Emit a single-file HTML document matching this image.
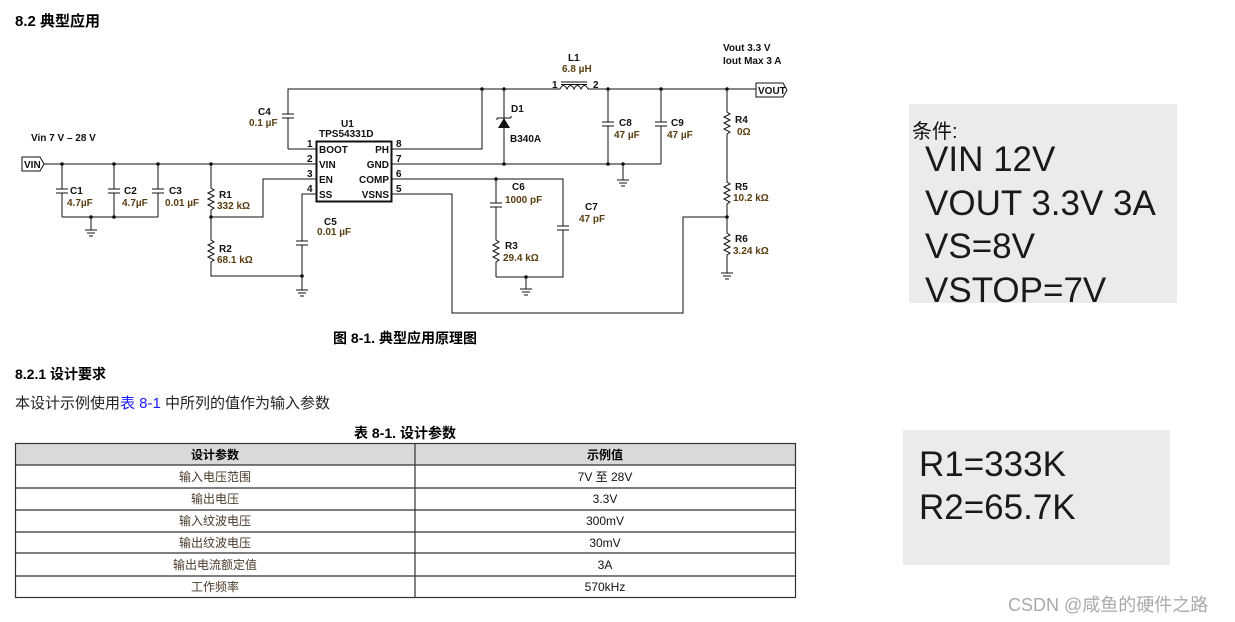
<!DOCTYPE html>
<html><head><meta charset="utf-8"><style>
html,body{margin:0;padding:0;background:#fff;width:1235px;height:622px;overflow:hidden}
svg{display:block}
.n{font:bold 10px "Liberation Sans",sans-serif;fill:#111}
.v{font:bold 10px "Liberation Sans",sans-serif;fill:#5a3d10}
.w{stroke:#111;stroke-width:1;fill:none}
.b{font-family:"Liberation Sans","Noto Sans CJK SC",sans-serif}
</style></head><body>
<svg width="1235" height="622" viewBox="0 0 1235 622" xmlns="http://www.w3.org/2000/svg">
<text x="15" y="26" class="b" font-size="15" font-weight="bold" fill="#000">8.2 典型应用</text>

<g class="w">
<path d="M22 157 H40 L44 164 L40 171 H22 Z"/>
<path d="M44 164 H316"/>
<path d="M62 164 V189 M56 189 H68 M56 193 H68 M62 193 V217"/>
<path d="M114 164 V189 M108 189 H120 M108 193 H120 M114 193 V217"/>
<path d="M158 164 V189 M152 189 H164 M152 193 H164 M158 193 V217"/>
<path d="M62 217 H158"/>
<path d="M91 217 V230 M85 230 H97 M87 233 H95 M89 236 H93"/>
<path d="M211 164 V188 l3 2 -6 3 6 3 -6 3 6 3 -6 3 6 3 -3 2 V240 l3 2 -6 3 6 3 -6 3 6 3 -6 3 6 3 -3 2 V276 H302"/>
<path d="M211 217 H263 V179 H316"/>
<path d="M316 194 H302 V241 M296 241 H308 M296 245 H308 M302 245 V290 M296 290 H308 M298 293 H306 M300 296 H304"/>
<path d="M288 149 H316 M288 149 V118 M282 118 H294 M282 114 H294 M288 114 V89 H560"/>
<rect x="316.5" y="141.5" width="75" height="60" stroke-width="2"/>
<path d="M392 149 H482 V89"/>
<path d="M560 89 q3.5 -7 7 0 q3.5 -7 7 0 q3.5 -7 7 0 q3.5 -7 7 0 M588 89 H756"/>
<path d="M561 82 H587 M561 84.5 H587"/>
<path d="M504 89 V164"/>
<path d="M392 164 H661"/>
<path d="M623 164 V180 M617 180 H629 M619 183 H627 M621 186 H625"/>
<path d="M608 89 V122 M602 122 H614 M602 126 H614 M608 126 V164"/>
<path d="M661 89 V122 M655 122 H667 M655 126 H667 M661 126 V164"/>
<path d="M392 179 H563 V226 M557 226 H569 M557 230 H569 M563 230 V277 H496"/>
<path d="M496 179 V203 M490 203 H502 M490 207 H502 M496 207 V240 l3 2 -6 3 6 3 -6 3 6 3 -6 3 6 3 -3 2 V277"/>
<path d="M526 277 V289 M520 289 H532 M522 292 H530 M524 295 H528"/>
<path d="M392 194 H452 V313 H683 V217 H727"/>
<path d="M727 89 V112 l3 2 -6 3 6 3 -6 3 6 3 -6 3 6 3 -3 2 V182 l3 2 -6 3 6 3 -6 3 6 3 -6 3 6 3 -3 2 V233 l3 2 -6 3 6 3 -6 3 6 3 -6 3 6 3 -3 2 V273 M721 273 H733 M723 276 H731 M725 279 H729"/>
<path d="M756 83 H783 L787 90 L783 97 H756 Z"/>
</g>
<path d="M498 128 H510 L504 118 Z" fill="#111"/>
<path d="M497 118 H511 M497 118 v2 M511 118 v-2" stroke="#111" fill="none"/>
<g fill="#111">
<circle cx="62" cy="164" r="1.8"/><circle cx="114" cy="164" r="1.8"/><circle cx="158" cy="164" r="1.8"/><circle cx="211" cy="164" r="1.8"/>
<circle cx="91" cy="217" r="1.8"/><circle cx="114" cy="217" r="1.8"/><circle cx="211" cy="217" r="1.8"/><circle cx="302" cy="276" r="1.8"/>
<circle cx="482" cy="89" r="1.8"/><circle cx="504" cy="89" r="1.8"/><circle cx="608" cy="89" r="1.8"/><circle cx="661" cy="89" r="1.8"/><circle cx="727" cy="89" r="1.8"/>
<circle cx="504" cy="164" r="1.8"/><circle cx="608" cy="164" r="1.8"/><circle cx="623" cy="164" r="1.8"/>
<circle cx="496" cy="179" r="1.8"/><circle cx="526" cy="277" r="1.8"/><circle cx="727" cy="217" r="1.8"/>
</g>

<text x="24" y="168" class="n">VIN</text>
<text x="758" y="94" class="n">VOUT</text>
<text x="31" y="141" class="n">Vin  7 V – 28 V</text>
<text x="70" y="194" class="n">C1</text><text x="67" y="206" class="v">4.7µF</text>
<text x="124" y="194" class="n">C2</text><text x="122" y="206" class="v">4.7µF</text>
<text x="169" y="194" class="n">C3</text><text x="165" y="206" class="v">0.01 µF</text>
<text x="219" y="198" class="n">R1</text><text x="217" y="209" class="v">332 kΩ</text>
<text x="219" y="252" class="n">R2</text><text x="217" y="263" class="v">68.1 kΩ</text>
<text x="324" y="225" class="n">C5</text><text x="317" y="235" class="v">0.01 µF</text>
<text x="258" y="115" class="n">C4</text><text x="249" y="126" class="v">0.1 µF</text>
<text x="341" y="127" class="n">U1</text>
<text x="319" y="137" class="n">TPS54331D</text>
<text x="319" y="153" class="n">BOOT</text><text x="319" y="168" class="n">VIN</text><text x="319" y="183" class="n">EN</text><text x="319" y="198" class="n">SS</text>
<text x="389" y="153" class="n" text-anchor="end">PH</text><text x="389" y="168" class="n" text-anchor="end">GND</text><text x="389" y="183" class="n" text-anchor="end">COMP</text><text x="389" y="198" class="n" text-anchor="end">VSNS</text>
<text x="307" y="147" class="n">1</text><text x="307" y="162" class="n">2</text><text x="307" y="177" class="n">3</text><text x="307" y="192" class="n">4</text>
<text x="396" y="147" class="n">8</text><text x="396" y="162" class="n">7</text><text x="396" y="177" class="n">6</text><text x="396" y="192" class="n">5</text>
<text x="568" y="61" class="n">L1</text><text x="562" y="72" class="v">6.8 µH</text>
<text x="552" y="88" class="n">1</text><text x="593" y="88" class="n">2</text>
<text x="511" y="112" class="n">D1</text><text x="510" y="142" class="n">B340A</text>
<text x="619" y="126" class="n">C8</text><text x="614" y="138" class="v">47 µF</text>
<text x="671" y="126" class="n">C9</text><text x="667" y="138" class="v">47 µF</text>
<text x="512" y="190" class="n">C6</text><text x="505" y="203" class="v">1000 pF</text>
<text x="585" y="210" class="n">C7</text><text x="579" y="222" class="v">47 pF</text>
<text x="505" y="249" class="n">R3</text><text x="503" y="261" class="v">29.4 kΩ</text>
<text x="735" y="123" class="n">R4</text><text x="737" y="135" class="v">0Ω</text>
<text x="735" y="190" class="n">R5</text><text x="733" y="201" class="v">10.2 kΩ</text>
<text x="735" y="242" class="n">R6</text><text x="733" y="254" class="v">3.24 kΩ</text>
<text x="723" y="51" class="n" font-size="9.5">Vout 3.3 V</text>
<text x="723" y="64" class="n" font-size="9.5">Iout Max 3 A</text>

<text x="405" y="343" class="b" font-size="14" font-weight="bold" text-anchor="middle" fill="#000">图 8-1. 典型应用原理图</text>
<text x="15" y="379" class="b" font-size="14" font-weight="bold" fill="#000">8.2.1 设计要求</text>
<text x="15" y="408" class="b" font-size="15" fill="#222">本设计示例使用<tspan fill="#1a1aff">表 8-1</tspan> 中所列的值作为输入参数</text>
<text x="405" y="438" class="b" font-size="14" font-weight="bold" text-anchor="middle" fill="#000">表 8-1. 设计参数</text>

<rect x="15" y="443" width="780" height="22" fill="#d9d9d9"/>
<g stroke="#333" stroke-width="1.2" fill="none">
<rect x="15.5" y="443.5" width="780" height="154"/>
<path d="M415 443 V598 M15 465 H796 M15 488 H796 M15 510 H796 M15 532 H796 M15 553 H796 M15 576 H796"/>
</g>
<g class="b" font-size="12" text-anchor="middle" fill="#4a3a2a">
<text x="215" y="459" font-weight="bold" fill="#000">设计参数</text><text x="605" y="459" font-weight="bold" fill="#000">示例值</text>
<text x="215" y="481">输入电压范围</text><text x="605" y="481" fill="#111">7V 至 28V</text>
<text x="215" y="503">输出电压</text><text x="605" y="503" fill="#111">3.3V</text>
<text x="215" y="525">输入纹波电压</text><text x="605" y="525" fill="#111">300mV</text>
<text x="215" y="547">输出纹波电压</text><text x="605" y="547" fill="#111">30mV</text>
<text x="215" y="569">输出电流额定值</text><text x="605" y="569" fill="#111">3A</text>
<text x="215" y="591">工作频率</text><text x="605" y="591" fill="#111">570kHz</text>
</g>

<rect x="909" y="104" width="268" height="199" fill="#ebebeb"/>
<text x="912" y="138" class="b" font-size="20" fill="#111">条件:</text>
<g class="b" font-size="35" fill="#1a1a1a">
<text x="925" y="171">VIN 12V</text>
<text x="925" y="215">VOUT 3.3V 3A</text>
<text x="925" y="258">VS=8V</text>
<text x="925" y="302">VSTOP=7V</text>
</g>
<rect x="903" y="430" width="267" height="135" fill="#ebebeb"/>
<g class="b" font-size="35" fill="#1a1a1a">
<text x="919" y="476">R1=333K</text>
<text x="919" y="519">R2=65.7K</text>
</g>
<text x="1008" y="611" class="b" font-size="18" fill="#aaa">CSDN @咸鱼的硬件之路</text>
</svg>
</body></html>
